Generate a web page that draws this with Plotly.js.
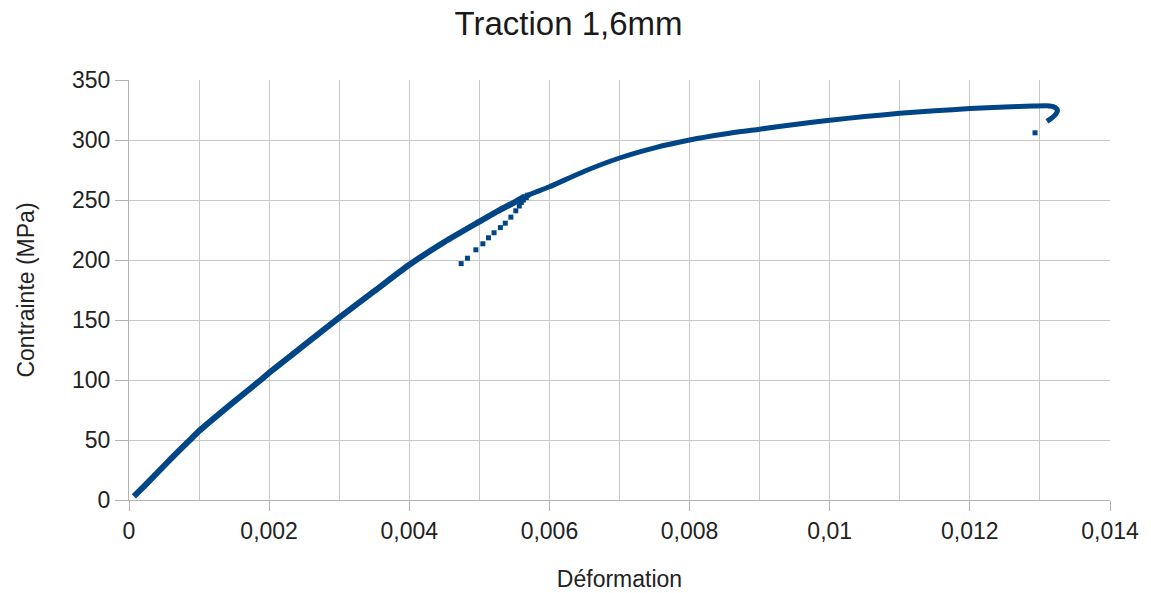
<!DOCTYPE html>
<html>
<head>
<meta charset="utf-8">
<script src="https://cdn.plot.ly/plotly-3.0.1.min.js"></script>
<style>html,body{margin:0;padding:0;background:#fff;}#chart{width:1151px;height:593px;}</style>
</head>
<body>
<div id="chart"></div>
<script>
// Loading branch (up to first unloading point)
const loadStrain = [0.00007, 0.0002, 0.0004, 0.0006, 0.00086, 0.001, 0.0015, 0.00188, 0.002, 0.0025, 0.003, 0.0035, 0.004, 0.0045, 0.005, 0.0053, 0.0055, 0.00565];
const loadStress = [3, 10.5, 22.5, 34.5, 49.5, 57.5, 82, 100, 106, 129, 152, 174, 196, 215, 232, 242, 248, 253];

// Unloading / reloading points (sparse markers)
const cycleStrain = [0.00569, 0.00567, 0.00563, 0.0056, 0.00557, 0.00552, 0.00545, 0.00537, 0.0053, 0.00521, 0.00513, 0.00505, 0.00495, 0.00483, 0.00474];
const cycleStress = [254, 252, 250, 248, 245, 241, 235.7, 230.7, 227, 222.7, 218.5, 213.5, 208.5, 201.5, 197];

// Plastic branch after reloading, up to rupture
const plasticStrain = [0.00565, 0.0058, 0.006, 0.0065, 0.007, 0.0075, 0.008, 0.0085, 0.009, 0.0095, 0.01, 0.0105, 0.011, 0.0115, 0.012, 0.0125, 0.0129, 0.01314, 0.01322, 0.01325, 0.01322, 0.01315, 0.0131];
const plasticStress = [253, 256.5, 261, 274, 285, 293.5, 300, 305, 309, 313, 316.5, 319.5, 322.2, 324.3, 326.2, 327.5, 328.3, 328.4, 327, 324.5, 321, 317.5, 315.5];

// Isolated point after rupture
const ruptureStrain = [0.01293];
const ruptureStress = [306];

const xTickVals = [0, 0.002, 0.004, 0.006, 0.008, 0.01, 0.012, 0.014];
const xTickText = ['0', '0,002', '0,004', '0,006', '0,008', '0,01', '0,012', '0,014'];
const yTickVals = [0, 50, 100, 150, 200, 250, 300, 350];

const blue = '#004586';
const grid = '#c8c8c8';
const axisLine = '#b3b3b3';
const font = 'Liberation Sans, Arial, sans-serif';

const traces = [
  {x: loadStrain, y: loadStress, type: 'scatter', mode: 'lines', line: {color: blue, width: 6, shape: 'spline', smoothing: 0.6}},
  {x: plasticStrain, y: plasticStress, type: 'scatter', mode: 'lines', line: {color: blue, width: 5, shape: 'spline', smoothing: 0.6}},
  {x: cycleStrain, y: cycleStress, type: 'scatter', mode: 'markers', marker: {color: blue, size: 5, symbol: 'square'}},
  {x: ruptureStrain, y: ruptureStress, type: 'scatter', mode: 'markers', marker: {color: blue, size: 5, symbol: 'square'}}
];

const layout = {
  width: 1151, height: 593,
  margin: {l: 129, r: 41, t: 80, b: 93},
  paper_bgcolor: '#ffffff', plot_bgcolor: '#ffffff',
  showlegend: false,
  font: {family: font, color: '#222222'},
  title: {text: 'Traction 1,6mm', font: {family: font, size: 33, color: '#1a1a1a'}, x: 0.494, xref: 'container', xanchor: 'center', y: 0.96, yref: 'container', yanchor: 'middle'},
  xaxis: {
    range: [0, 0.014], tickvals: xTickVals, ticktext: xTickText,
    ticks: 'outside', ticklen: 10, tickcolor: axisLine, tickwidth: 1,
    showgrid: true, gridcolor: grid, gridwidth: 1,
    minor: {dtick: 0.001, tick0: 0, showgrid: true, gridcolor: grid, gridwidth: 1, ticks: ''},
    showline: true, linecolor: axisLine, linewidth: 1, zeroline: false,
    tickfont: {family: font, size: 23, color: '#222222'},
    title: {text: 'Déformation', font: {family: font, size: 23, color: '#222222'}, standoff: 28}
  },
  yaxis: {
    range: [0, 350], tickvals: yTickVals,
    ticks: 'outside', ticklen: 13, tickcolor: axisLine, tickwidth: 1,
    showgrid: true, gridcolor: grid, gridwidth: 1,
    showline: true, linecolor: axisLine, linewidth: 1, zeroline: false,
    tickfont: {family: font, size: 23, color: '#222222'},
    title: {text: 'Contrainte (MPa)', font: {family: font, size: 23, color: '#222222'}, standoff: 30}
  }
};

Plotly.newPlot('chart', traces, layout, {displayModeBar: false, staticPlot: true});
</script>
</body>
</html>
